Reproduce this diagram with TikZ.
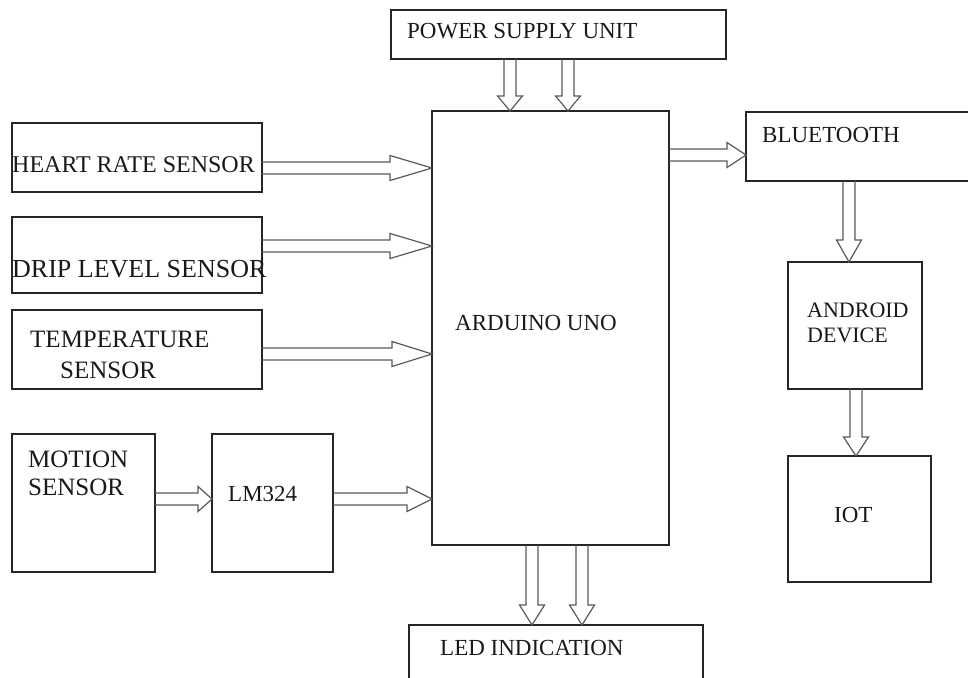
\documentclass[tikz,border=0pt]{standalone}
\usepackage{fontspec}
\setmainfont{Liberation Serif}
\usetikzlibrary{calc}
\tikzset{
  box/.style={draw=black!85, line width=1.3pt, anchor=north west, inner sep=0pt, outer sep=0pt},
  txt/.style={anchor=base west, inner sep=0pt, font=\fontsize{#1}{28}\selectfont, text=black!90},
  txt/.default=23,
  barrow/.style={draw=black!65, line width=1.2pt, line join=miter}
}
\newcommand\RArr[3]{\draw[barrow] let \p1=#1, \p2=#2 in (\x1,\y1+6pt) -- (\x2-#3pt,\y1+6pt) -- (\x2-#3pt,\y1+12.5pt) -- (\x2,\y1) -- (\x2-#3pt,\y1-12.5pt) -- (\x2-#3pt,\y1-6pt) -- (\x1,\y1-6pt);}
\newcommand\DArr[3]{\draw[barrow] let \p1=#1, \p2=#2 in (\x1-6pt,\y1) -- (\x1-6pt,\y2+#3pt) -- (\x1-12.5pt,\y2+#3pt) -- (\x1,\y2) -- (\x1+12.5pt,\y2+#3pt) -- (\x1+6pt,\y2+#3pt) -- (\x1+6pt,\y1);}
\begin{document}
\begin{tikzpicture}[x=1pt,y=-1pt]
\useasboundingbox (0,0) rectangle (968,677);
\clip (0,0) rectangle (968,677);
% boxes
\node[box, minimum width=335pt, minimum height=49pt] (psu) at (391,10) {};
\node[box, minimum width=237pt, minimum height=434pt] (ard) at (432,111) {};
\node[box, minimum width=250pt, minimum height=69pt] (hr) at (12,123) {};
\node[box, minimum width=250pt, minimum height=76pt] (drip) at (12,217) {};
\node[box, minimum width=250pt, minimum height=79pt] (temp) at (12,310) {};
\node[box, minimum width=143pt, minimum height=138pt] (mot) at (12,434) {};
\node[box, minimum width=121pt, minimum height=138pt] (lm) at (212,434) {};
\node[box, minimum width=240pt, minimum height=69pt] (bt) at (746,112) {};
\node[box, minimum width=134pt, minimum height=127pt] (and) at (788,262) {};
\node[box, minimum width=143pt, minimum height=126pt] (iot) at (788,456) {};
\node[box, minimum width=294pt, minimum height=80pt] (led) at (409,625) {};
% texts
\node[txt] (psuT) at (407,39) {POWER SUPPLY UNIT};
\node[txt] (ardT) at (455,330) {ARDUINO UNO};
\node[txt=24] (hrT) at (12,172) {HEART RATE SENSOR};
\node[txt=26] (dripT) at (12,277) {DRIP LEVEL SENSOR};
\node[txt=25] (tempT1) at (30,347) {TEMPERATURE};
\node[txt=25] (tempT2) at (60,378) {SENSOR};
\node[txt=25] (motT1) at (28,467) {MOTION};
\node[txt=25] (motT2) at (28,495) {SENSOR};
\node[txt] (lmT) at (228,501) {LM324};
\node[txt] (btT) at (762,142) {BLUETOOTH};
\node[txt=22] (andT1) at (807,317) {ANDROID};
\node[txt=22] (andT2) at (807,342) {DEVICE};
\node[txt] (iotT) at (834,522) {IOT};
\node[txt] (ledT) at (440,655) {LED INDICATION};
% arrows
\DArr{(psu.south -| 510,0)}{(ard.north -| 510,0)}{15}
\DArr{(psu.south -| 568,0)}{(ard.north -| 568,0)}{15}
\RArr{(hr.east |- 0,168)}{(ard.west |- 0,168)}{42}
\RArr{(drip.east |- 0,246)}{(ard.west |- 0,246)}{42}
\RArr{(temp.east |- 0,354)}{(ard.west |- 0,354)}{40}
\RArr{(mot.east |- 0,499)}{(lm.west |- 0,499)}{14}
\RArr{(lm.east |- 0,499)}{(ard.west |- 0,499)}{25}
\RArr{(ard.east |- 0,155)}{(bt.west |- 0,155)}{19}
\DArr{(bt.south -| 849,0)}{(and.north -| 849,0)}{22}
\DArr{(and.south -| 856,0)}{(iot.north -| 856,0)}{19}
\DArr{(ard.south -| 532,0)}{(led.north -| 532,0)}{20}
\DArr{(ard.south -| 582,0)}{(led.north -| 582,0)}{20}
\end{tikzpicture}
\end{document}
